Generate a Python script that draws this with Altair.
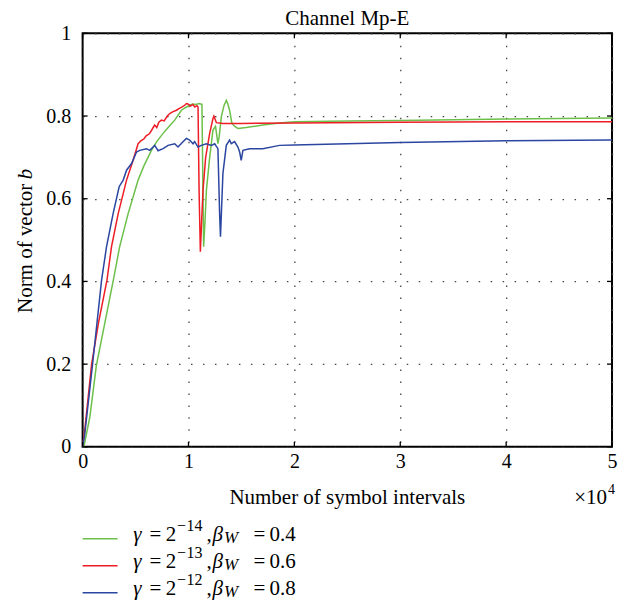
import altair as alt
import pandas as pd

# x in units of 1e4 symbol intervals
green_t = [0, 0.012, 0.069, 0.13, 0.21, 0.29, 0.35, 0.43, 0.524, 0.58, 0.65, 0.70, 0.76, 0.82, 0.87,
           0.933, 0.97, 1.01, 1.04, 1.07, 1.10, 1.127, 1.135, 1.143, 1.155, 1.169, 1.2, 1.231, 1.255,
           1.278, 1.29, 1.31, 1.335, 1.357, 1.37, 1.388, 1.41, 1.44, 1.467, 1.545, 1.70, 1.86, 2.0,
           2.5, 3.0, 3.5, 4.0, 4.5, 5.0]
green_v = [0, 0.0, 0.073, 0.197, 0.30, 0.403, 0.484, 0.564, 0.645, 0.68, 0.717, 0.738, 0.758, 0.776, 0.79,
           0.814, 0.82, 0.826, 0.829, 0.828, 0.83, 0.828, 0.65, 0.484, 0.54, 0.62, 0.70, 0.766, 0.775,
           0.733, 0.75, 0.798, 0.825, 0.838, 0.83, 0.814, 0.782, 0.774, 0.770, 0.772, 0.778, 0.783, 0.786,
           0.788, 0.789, 0.791, 0.793, 0.794, 0.795]

red_t = [0, 0.02, 0.085, 0.15, 0.23, 0.273, 0.336, 0.415, 0.477, 0.524, 0.55, 0.58, 0.60, 0.63, 0.65,
         0.68, 0.70, 0.72, 0.745, 0.77, 0.80, 0.823, 0.85, 0.886, 0.91, 0.94, 0.964, 0.98, 0.995, 1.02,
         1.04, 1.06, 1.08, 1.09, 1.10, 1.112, 1.125, 1.137, 1.162, 1.2, 1.231, 1.24, 1.263, 1.325, 1.5,
         2.0, 3.0, 4.0, 5.0]
red_v = [0, 0.04, 0.2, 0.30, 0.403, 0.484, 0.564, 0.645, 0.693, 0.733, 0.74, 0.745, 0.752, 0.757, 0.765,
         0.778, 0.772, 0.785, 0.79, 0.788, 0.80, 0.806, 0.81, 0.814, 0.818, 0.822, 0.826, 0.83, 0.829, 0.824,
         0.828, 0.822, 0.825, 0.822, 0.62, 0.472, 0.55, 0.62, 0.70, 0.758, 0.794, 0.80, 0.784, 0.782, 0.782,
         0.783, 0.785, 0.786, 0.786]

blue_t = [0, 0.02, 0.094, 0.179, 0.226, 0.288, 0.345, 0.383, 0.415, 0.462, 0.509, 0.540, 0.603, 0.634,
          0.681, 0.713, 0.760, 0.807, 0.870, 0.901, 0.948, 0.980, 1.011, 1.043, 1.058, 1.090, 1.121,
          1.169, 1.216, 1.247, 1.278, 1.294, 1.302, 1.325, 1.357, 1.388, 1.404, 1.435, 1.467, 1.483,
          1.498, 1.514, 1.577, 1.702, 1.86, 2.0, 3.0, 4.0, 5.0]
blue_v = [0, 0.03, 0.2, 0.403, 0.484, 0.564, 0.629, 0.645, 0.669, 0.685, 0.713, 0.717, 0.721, 0.717,
          0.729, 0.716, 0.721, 0.729, 0.733, 0.725, 0.738, 0.746, 0.742, 0.733, 0.738, 0.725, 0.729,
          0.733, 0.729, 0.733, 0.721, 0.564, 0.508, 0.661, 0.729, 0.742, 0.733, 0.738, 0.725, 0.713,
          0.693, 0.717, 0.721, 0.721, 0.729, 0.730, 0.736, 0.740, 0.742]

series_names = ["g14", "g13", "g12"]
series_colors = ["#6cc04a", "#ee1c25", "#2b46a0"]
gamma_exps = ["14", "13", "12"]
beta_vals = ["0.4", "0.6", "0.8"]

x_ticks = [0, 1, 2, 3, 4, 5]
y_ticks = [0, 0.2, 0.4, 0.6, 0.8, 1]

W, H = 530, 414
FONT = "Liberation Serif"

x_scale = alt.Scale(domain=[0, 5], nice=False, zero=False)
y_scale = alt.Scale(domain=[0, 1], nice=False)

x_axis = alt.Axis(values=x_ticks, format="d", title=None, grid=True, ticks=False, domain=False,
                  labelFont=FONT, labelFontSize=20, labelColor="black", labelPadding=5,
                  labelFlush=False, labelOverlap=False,
                  gridColor="#444444", gridDash=[1.5, 10.5], gridWidth=1.3, gridOpacity=1)
y_axis = alt.Axis(values=y_ticks, format="~g", title=None, grid=True, ticks=False, domain=False,
                  labelFont=FONT, labelFontSize=20, labelColor="black", labelPadding=12,
                  labelFlush=False, labelOverlap=False,
                  gridColor="#444444", gridDash=[1.5, 10.5], gridWidth=1.3, gridOpacity=1)

X = lambda: alt.X("t:Q", scale=x_scale, axis=x_axis)
Y = lambda: alt.Y("v:Q", scale=y_scale, axis=y_axis)

layers = []
all_series = [(green_t, green_v), (red_t, red_v), (blue_t, blue_v)]
for i, (ts, vs) in enumerate(all_series):
    df = pd.DataFrame({"t": ts, "v": vs})
    layers.append(alt.Chart(df).mark_line(color=series_colors[i], strokeWidth=1.5).encode(x=X(), y=Y()))

# inward ticks
xt = pd.DataFrame({"t": x_ticks})
yt = pd.DataFrame({"v": y_ticks})
for (a, b) in [(H, H - 5), (0, 5)]:
    layers.append(alt.Chart(xt).mark_rule(color="black", strokeWidth=1.3).encode(
        x=X(), y=alt.value(a), y2=alt.value(b)))
for (a, b) in [(0, 5), (W, W - 5)]:
    layers.append(alt.Chart(yt).mark_rule(color="black", strokeWidth=1.3).encode(
        y=Y(), x=alt.value(a), x2=alt.value(b)))

one = pd.DataFrame({"a": [0]})


def txt(s, x, y, size=21, style="normal", align="left", angle=0):
    kw = dict(text=s, font=FONT, fontSize=size, fontStyle=style, align=align,
              baseline="alphabetic", color="black")
    if angle:
        kw["angle"] = angle
    return alt.Chart(one).mark_text(**kw).encode(x=alt.value(x), y=alt.value(y))


# titles
layers.append(txt("Channel Mp-E", W / 2, -8, align="center"))
layers.append(txt("Number of symbol intervals", W / 2, 471, align="center"))
layers.append(txt("×10", 525, 471, align="right"))
layers.append(txt("4", 526, 461, size=14))
layers.append(txt("Norm of vector", -51, 280, angle=270))
layers.append(txt("b", -51, 146, style="italic", angle=270))

# legend
for i in range(3):
    ly = 506 + 27 * i
    by = 508 + 27 * i
    layers.append(alt.Chart(one).mark_rule(color=series_colors[i], strokeWidth=1.5).encode(
        x=alt.value(0), x2=alt.value(35), y=alt.value(ly)))
    layers.append(txt("γ", 50.6, by, style="italic"))
    layers.append(txt("=", 67, by))
    layers.append(txt("2", 83.3, by))
    layers.append(txt("−", 94.5, by - 10, size=16))
    layers.append(txt(gamma_exps[i], 104, by - 10, size=16))
    layers.append(txt(",", 124, by))
    layers.append(txt("β", 130, by, style="italic"))
    layers.append(txt("W", 141.5, by + 2, size=17, style="italic"))
    layers.append(txt("=", 171, by))
    layers.append(txt(beta_vals[i], 187, by))

chart = alt.layer(*layers).properties(
    width=W, height=H,
    autosize=alt.AutoSizeParams(type="none"),
    padding={"left": 74.7, "top": 25, "right": 18, "bottom": 154},
).configure_view(stroke="black", strokeWidth=2)

chart.save("out.html", embed_options={"renderer": "svg", "actions": False})
